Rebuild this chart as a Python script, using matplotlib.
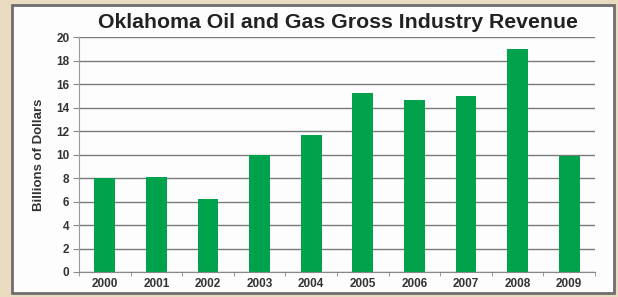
import matplotlib
matplotlib.use("Agg")
import matplotlib.pyplot as plt
from matplotlib.patches import Rectangle
import numpy as np

# data
years = ['2000', '2001', '2002', '2003', '2004', '2005', '2006', '2007', '2008', '2009']
revenue = [8.0, 8.1, 6.2, 10.0, 11.7, 15.25, 14.6, 14.95, 19.0, 9.85]
y_ticks = [0, 2, 4, 6, 8, 10, 12, 14, 16, 18, 20]

plt.rcParams['font.family'] = ['Liberation Sans', 'DejaVu Sans']

fig = plt.figure(figsize=(6.18, 2.97), dpi=100)
fig.patch.set_facecolor('#e8dbbf')

# white panel with grey frame
W, H = 618, 297
panel = Rectangle((12 / W, 1 - 293 / H), 602 / W, 288 / H, transform=fig.transFigure,
                  facecolor='#fdfdfd', edgecolor='#6e6e6e', linewidth=2, zorder=-10)
fig.patches.append(panel)

ax = fig.add_axes([79 / W, 1 - 272 / H, 516 / W, 235 / H])
ax.set_facecolor('none')

x = np.arange(len(years))
ax.bar(x, revenue, width=0.4, color='#00a34c', zorder=2)

ax.set_xlim(-0.5, len(years) - 0.5)
ax.set_ylim(0, 20)
ax.set_yticks(y_ticks)
ax.set_xticks(x)
ax.set_xticklabels(years, fontsize=8.5, fontweight='bold', color='#333333')
ax.set_yticklabels([str(t) for t in y_ticks], fontsize=8.5, fontweight='bold', color='#333333')
ax.set_xticks(np.arange(-0.5, len(years)), minor=True)
ax.tick_params(axis='x', which='major', length=0, pad=4)
ax.tick_params(axis='x', which='minor', length=3, color='#888888', direction='out')
ax.tick_params(axis='y', length=4, color='#888888', pad=3)

ax.grid(axis='y', color='#7a7a7a', linewidth=1.0, zorder=1)
ax.set_axisbelow(True)
for side in ['top', 'right']:
    ax.spines[side].set_visible(False)
ax.spines['left'].set_color('#999999')
ax.spines['bottom'].set_color('#888888')

ax.set_ylabel('Billions of Dollars', fontsize=9.5, fontweight='bold', color='#333333')
ax.yaxis.set_label_coords(-0.066, 0.5)
fig.text(338 / W, 1 - 23 / H, 'Oklahoma Oil and Gas Gross Industry Revenue',
         ha='center', va='center', fontsize=15.3, fontweight='bold', color='#222222')

fig.savefig('out.png', dpi=100, facecolor=fig.get_facecolor())
